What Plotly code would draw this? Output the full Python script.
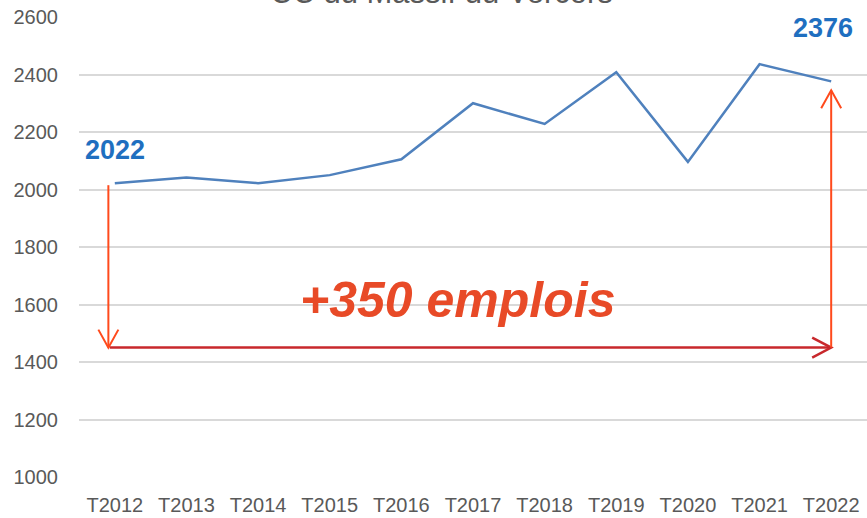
import plotly.graph_objects as go

# Data
quarters = ["T2012", "T2013", "T2014", "T2015", "T2016", "T2017",
            "T2018", "T2019", "T2020", "T2021", "T2022"]
emplois = [2022, 2042, 2022, 2050, 2105, 2300, 2228, 2408, 2096, 2436, 2376]
y_ticks = [1000, 1200, 1400, 1600, 1800, 2000, 2200, 2400, 2600]
title_text = "CC du Massif du Vercors"
gain_text = "+350 emplois"
start_label = "2022"
end_label = "2376"

# Annotation geometry (arrow level in data units)
arrow_level = 1450
left_x = -0.09
right_x = 10.0

fig = go.Figure()
fig.add_trace(go.Scatter(
    x=list(range(len(quarters))), y=emplois, mode="lines",
    line=dict(color="#4F81BD", width=2.5), hoverinfo="skip", showlegend=False,
))

orange = "#FF4A1C"
darkred = "#C8282C"

shapes = [
    # left vertical arrow (down)
    dict(type="line", xref="x", yref="y", x0=left_x, x1=left_x, y0=2015, y1=arrow_level,
         line=dict(color=orange, width=2)),
    dict(type="path", xref="x", yref="y", xsizemode="pixel", ysizemode="pixel",
         xanchor=left_x, yanchor=arrow_level, path="M -10 18 L 0 0 L 10 18",
         line=dict(color=orange, width=2)),
    # horizontal arrow (right)
    dict(type="line", xref="x", yref="y", x0=left_x + 0.02, x1=right_x, y0=arrow_level, y1=arrow_level,
         line=dict(color=darkred, width=2.5)),
    dict(type="path", xref="x", yref="y", xsizemode="pixel", ysizemode="pixel",
         xanchor=right_x, yanchor=arrow_level, path="M -19 10 L 0 0 L -19 -10",
         line=dict(color=darkred, width=2.5)),
    # right vertical arrow (up)
    dict(type="line", xref="x", yref="y", x0=right_x, x1=right_x, y0=arrow_level, y1=2345,
         line=dict(color=orange, width=2)),
    dict(type="path", xref="x", yref="y", xsizemode="pixel", ysizemode="pixel",
         xanchor=right_x, yanchor=2345, path="M -10 -18 L 0 0 L 10 -18",
         line=dict(color=orange, width=2)),
]

annotations = [
    dict(text="<b>" + start_label + "</b>", x=0, y=2137, xref="x", yref="y", showarrow=False,
         font=dict(family="Liberation Sans", size=27, color="#1F6FC0"), xanchor="center", yanchor="middle"),
    dict(text="<b>" + end_label + "</b>", x=9.88, y=2562, xref="x", yref="y", showarrow=False,
         font=dict(family="Liberation Sans", size=27, color="#1F6FC0"), xanchor="center", yanchor="middle"),
    dict(text="<b><i>" + gain_text + "</i></b>", x=4.78, y=1616, xref="x", yref="y", showarrow=False,
         font=dict(family="Liberation Sans", size=50, color="#E84A27"), xanchor="center", yanchor="middle"),
    dict(text=title_text, x=0.46, y=1.0, xref="paper", yref="paper", yshift=5,
         showarrow=False, font=dict(family="Liberation Sans", size=31, color="#595959"),
         xanchor="center", yanchor="bottom"),
]

fig.update_layout(
    width=867, height=518,
    margin=dict(l=79, r=0, t=17, b=41),
    paper_bgcolor="white", plot_bgcolor="white",
    shapes=shapes, annotations=annotations,
    font=dict(family="Liberation Sans", color="#595959", size=20),
    xaxis=dict(
        tickmode="array", tickvals=list(range(len(quarters))), ticktext=quarters,
        range=[-0.5, 10.5], showgrid=False, zeroline=False, showline=False,
        ticks="", ticklabelstandoff=14, tickfont=dict(size=20, color="#595959"),
    ),
    yaxis=dict(
        tickmode="array", tickvals=y_ticks, range=[1000, 2600],
        showgrid=True, gridcolor="#D9D9D9", gridwidth=2, zeroline=False, showline=False,
        ticks="", ticklabelstandoff=20, tickfont=dict(size=20, color="#595959"),
    ),
)

fig.write_html("out.html", config={"displayModeBar": False})

# remove default page margin so the figure fills the window exactly
with open("out.html", "r", encoding="utf-8") as f:
    html = f.read()
html = html.replace("<body>", '<body style="margin:0;overflow:hidden">', 1)
with open("out.html", "w", encoding="utf-8") as f:
    f.write(html)
